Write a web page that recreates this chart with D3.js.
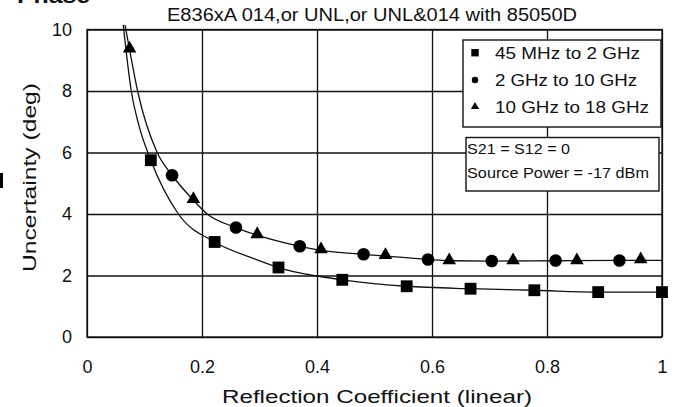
<!DOCTYPE html>
<meta charset="utf-8">
<script src="https://d3js.org/d3.v7.min.js"></script>
<style>
  body { margin: 0; background: #fff; }
  text { font-family: "Liberation Sans", Arial, sans-serif; fill: #111; }
</style>
<div id="chart"></div>
<script>
// values
var xTicks = [0, 0.2, 0.4, 0.6, 0.8, 1];
var xTickLabels = ["0", "0.2", "0.4", "0.6", "0.8", "1"];
var yTicks = [0, 2, 4, 6, 8, 10];
var yTickLabels = ["0", "2", "4", "6", "8", "10"];

var seriesNames = ["45 MHz to 2 GHz", "2 GHz to 10 GHz", "10 GHz to 18 GHz"];

var lowX = [0.111, 0.222, 0.333, 0.444, 0.556, 0.667, 0.778, 0.889, 1.0];
var lowY = [5.75, 3.09, 2.26, 1.86, 1.65, 1.57, 1.52, 1.46, 1.46];

var midX = [0.148, 0.259, 0.370, 0.481, 0.593, 0.704, 0.815, 0.926];
var midY = [5.26, 3.56, 2.95, 2.69, 2.52, 2.47, 2.49, 2.49];

var highX = [0.074, 0.185, 0.296, 0.407, 0.519, 0.630, 0.741, 0.852, 0.963];
var highY = [9.35, 4.45, 3.31, 2.82, 2.63, 2.46, 2.46, 2.46, 2.49];

// traced fit curves
var lowCurveX = [0.063, 0.077, 0.090, 0.111, 0.159, 0.222, 0.290, 0.333, 0.394, 0.444, 0.556, 0.667, 0.778, 0.889, 1.0];
var lowCurveY = [10.15, 8.0, 6.9, 5.75, 4.0, 3.09, 2.55, 2.26, 2.0, 1.86, 1.65, 1.57, 1.52, 1.46, 1.46];
var highCurveX = [0.066, 0.074, 0.088, 0.122, 0.148, 0.185, 0.209, 0.259, 0.296, 0.370, 0.407, 0.481, 0.519, 0.593, 0.630, 0.704, 0.815, 0.926, 1.0];
var highCurveY = [10.15, 9.35, 8.0, 6.0, 5.26, 4.45, 4.0, 3.56, 3.31, 2.95, 2.82, 2.69, 2.63, 2.52, 2.48, 2.47, 2.48, 2.49, 2.49];

var W = 676, H = 407;
var plotL = 87, plotR = 662, plotT = 29.5, plotB = 337;

var svg = d3.select("#chart").append("svg")
    .attr("width", W).attr("height", H);

var x = d3.scaleLinear().domain([0, 1]).range([plotL, plotR]);
var y = d3.scaleLinear().domain([0, 10]).range([plotB, plotT]);

// grid + axes
svg.append("g")
    .attr("transform", "translate(0," + plotB + ")")
    .call(d3.axisBottom(x).tickValues(xTicks).tickSize(-(plotB - plotT)).tickSizeOuter(0)
        .tickPadding(23).tickFormat(function(d, i) { return xTickLabels[i]; }));
svg.append("g")
    .attr("transform", "translate(" + plotL + ",0)")
    .call(d3.axisLeft(y).tickValues(yTicks).tickSize(-(plotR - plotL)).tickSizeOuter(0)
        .tickPadding(15).tickFormat(function(d, i) { return yTickLabels[i]; }));
svg.selectAll(".domain").remove();
svg.selectAll(".tick line").attr("stroke", "#111").attr("stroke-width", 1.3);
svg.selectAll(".tick text").attr("font-size", 18).attr("fill", "#111")
    .style("font-family", "'Liberation Sans', Arial, sans-serif");

svg.append("rect")
    .attr("x", plotL).attr("y", plotT)
    .attr("width", plotR - plotL).attr("height", plotB - plotT)
    .attr("fill", "none").attr("stroke", "#111").attr("stroke-width", 1.3);

// fitted curves
var line = d3.line()
    .x(function(d) { return x(d[0]); })
    .y(function(d) { return y(d[1]); })
    .curve(d3.curveMonotoneX);

[[lowCurveX, lowCurveY], [highCurveX, highCurveY]].forEach(function(c) {
    svg.append("path")
        .datum(d3.zip(c[0], c[1]))
        .attr("d", line)
        .attr("fill", "none")
        .attr("stroke", "#111")
        .attr("stroke-width", 1.3);
});

// markers
var sq = d3.symbol().type(d3.symbolSquare).size(140);
var tri = d3.symbol().type(d3.symbolTriangle).size(80);

svg.append("g").selectAll("path")
    .data(d3.zip(lowX, lowY)).enter().append("path")
    .attr("transform", function(d) { return "translate(" + x(d[0]) + "," + y(d[1]) + ")"; })
    .attr("d", sq).attr("fill", "#000");

svg.append("g").selectAll("circle")
    .data(d3.zip(midX, midY)).enter().append("circle")
    .attr("cx", function(d) { return x(d[0]); })
    .attr("cy", function(d) { return y(d[1]); })
    .attr("r", 6.3).attr("fill", "#000");

svg.append("g").selectAll("path")
    .data(d3.zip(highX, highY)).enter().append("path")
    .attr("transform", function(d) { return "translate(" + x(d[0]) + "," + (y(d[1]) - 1) + ")"; })
    .attr("d", tri).attr("fill", "#000");

// titles
svg.append("text")
    .attr("x", 167).attr("y", 21)
    .attr("font-size", 18).attr("textLength", 410).attr("lengthAdjust", "spacingAndGlyphs")
    .text("E836xA 014,or UNL,or UNL&014 with 85050D");

svg.append("text")
    .attr("x", 222).attr("y", 403)
    .attr("font-size", 19).attr("textLength", 310).attr("lengthAdjust", "spacingAndGlyphs")
    .text("Reflection Coefficient (linear)");

svg.append("text")
    .attr("transform", "translate(36,272) rotate(-90)")
    .attr("font-size", 19).attr("textLength", 189).attr("lengthAdjust", "spacingAndGlyphs")
    .text("Uncertainty (deg)");

// cut-off heading at the top and stray mark on the left
svg.append("text")
    .attr("x", 17).attr("y", 3)
    .attr("font-size", 22).attr("font-weight", "bold")
    .attr("textLength", 73).attr("lengthAdjust", "spacingAndGlyphs")
    .text("Phase");
svg.append("rect").attr("x", 0).attr("y", 173).attr("width", 3).attr("height", 15).attr("fill", "#000");

// legend box
var lg = svg.append("g");
lg.append("rect")
    .attr("x", 463).attr("y", 40).attr("width", 198).attr("height", 87)
    .attr("fill", "#fff").attr("stroke", "#111").attr("stroke-width", 1.4);
var rowY = [52.7, 80, 106.7];
var rowLen = [145, 142, 154];
var legSyms = [d3.symbol().type(d3.symbolSquare).size(55), d3.symbol().type(d3.symbolCircle).size(32), d3.symbol().type(d3.symbolTriangle).size(30)];
seriesNames.forEach(function(name, i) {
    lg.append("path")
        .attr("transform", "translate(475," + rowY[i] + ")")
        .attr("d", legSyms[i]).attr("fill", "#000");
    lg.append("text")
        .attr("x", 495).attr("y", rowY[i] + 6)
        .attr("font-size", 16).attr("textLength", rowLen[i]).attr("lengthAdjust", "spacingAndGlyphs")
        .text(name);
});

// conditions box
var cb = svg.append("g");
cb.append("rect")
    .attr("x", 466).attr("y", 137.5).attr("width", 193).attr("height", 53.5)
    .attr("fill", "#fff").attr("stroke", "#111").attr("stroke-width", 1.4);
cb.append("text")
    .attr("x", 467).attr("y", 154)
    .attr("font-size", 15).attr("textLength", 103).attr("lengthAdjust", "spacingAndGlyphs")
    .text("S21 = S12 = 0");
cb.append("text")
    .attr("x", 467).attr("y", 178.3)
    .attr("font-size", 15).attr("textLength", 182).attr("lengthAdjust", "spacingAndGlyphs")
    .text("Source Power = -17 dBm");
</script>
